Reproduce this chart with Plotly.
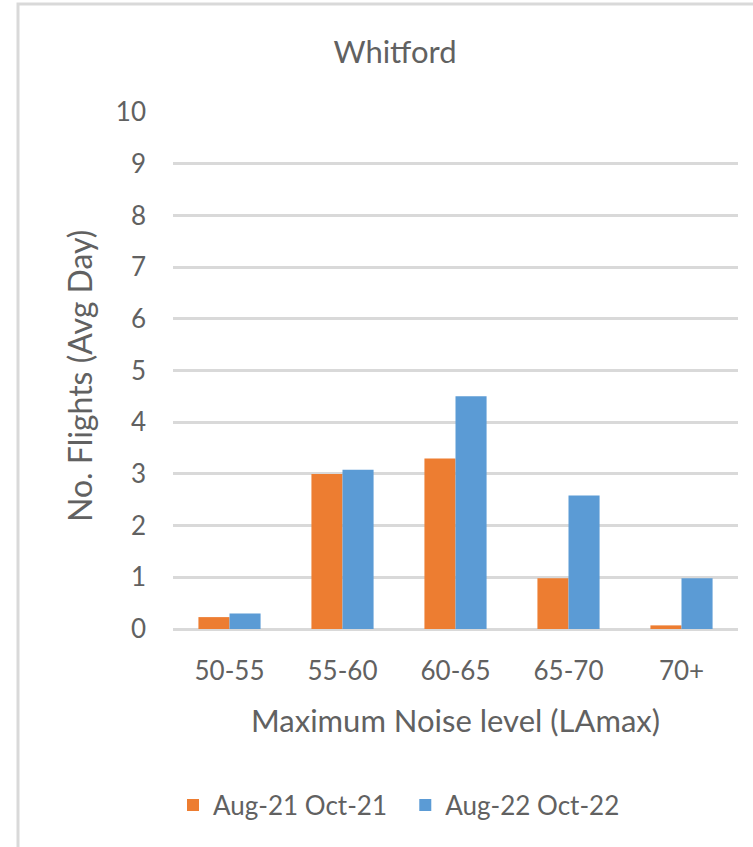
import plotly.graph_objects as go

categories = ["50-55", "55-60", "60-65", "65-70", "70+"]
series_2021 = [0.23, 3.0, 3.3, 0.98, 0.07]
series_2022 = [0.3, 3.08, 4.5, 2.58, 0.98]
name_2021 = "Aug-21 Oct-21"
name_2022 = "Aug-22 Oct-22"
y_ticks = list(range(0, 11))

W, H = 753, 847
L, R, T, B = 173, 738, 112, 629

def px_x(p):
    return (p - L) / (R - L)

def px_y(p):
    return (B - p) / (B - T)

FONT = "Lato"
TXT = "#616161"

fig = go.Figure()
fig.add_trace(go.Bar(x=categories, y=series_2021, name=name_2021 + "  ",
                     marker=dict(color="#ED7D31", line=dict(width=0))))
fig.add_trace(go.Bar(x=categories, y=series_2022, name=name_2022,
                     marker=dict(color="#5B9BD5", line=dict(width=0))))

fig.update_layout(
    width=W, height=H,
    margin=dict(l=L, r=W - R, t=T, b=H - B, pad=0),
    paper_bgcolor="white", plot_bgcolor="white",
    barmode="group", bargap=0.45, bargroupgap=0,
    font=dict(family=FONT, size=26, color=TXT),
    title=dict(text="Whitford", x=395 / W, xref="container", xanchor="center",
               y=1 - 52 / H, yref="container", yanchor="middle",
               font=dict(family=FONT, size=31, color=TXT)),
    showlegend=True,
    legend=dict(orientation="h", x=px_x(399), xanchor="center",
                y=px_y(805), yanchor="middle",
                font=dict(family=FONT, size=26, color=TXT),
                itemwidth=30, tracegroupgap=0, traceorder="normal"),
    xaxis=dict(showgrid=False, showline=False, ticks="", ticklabelstandoff=24,
               tickfont=dict(family=FONT, size=26, color=TXT)),
    yaxis=dict(range=[0, 10], tickvals=y_ticks, showgrid=True, gridcolor="#d9d9d9",
               gridwidth=2.5, zeroline=True, zerolinecolor="#d9d9d9", zerolinewidth=2.5,
               ticks="", ticklabelstandoff=26, showline=False,
               tickfont=dict(family=FONT, size=26, color=TXT)),
    annotations=[
        dict(text="No. Flights (Avg Day)", xref="paper", yref="paper",
             x=px_x(79), y=px_y(376), xanchor="center", yanchor="middle",
             textangle=-90, showarrow=False,
             font=dict(family=FONT, size=32, color=TXT)),
        dict(text="Maximum Noise level (LAmax)", xref="paper", yref="paper",
             x=px_x(455), y=px_y(720), xanchor="center", yanchor="middle",
             showarrow=False, font=dict(family=FONT, size=31, color=TXT)),
    ],
    shapes=[
        dict(type="rect", xref="paper", yref="paper",
             x0=px_x(18), x1=px_x(800), y0=px_y(900), y1=px_y(4),
             line=dict(color="#d9d9d9", width=3), fillcolor="rgba(0,0,0,0)",
             layer="below"),
    ],
)

fig.write_html("out.html",
               config={"displayModeBar": False},
               post_script="document.body.style.margin='0';document.body.style.overflow='hidden';")
